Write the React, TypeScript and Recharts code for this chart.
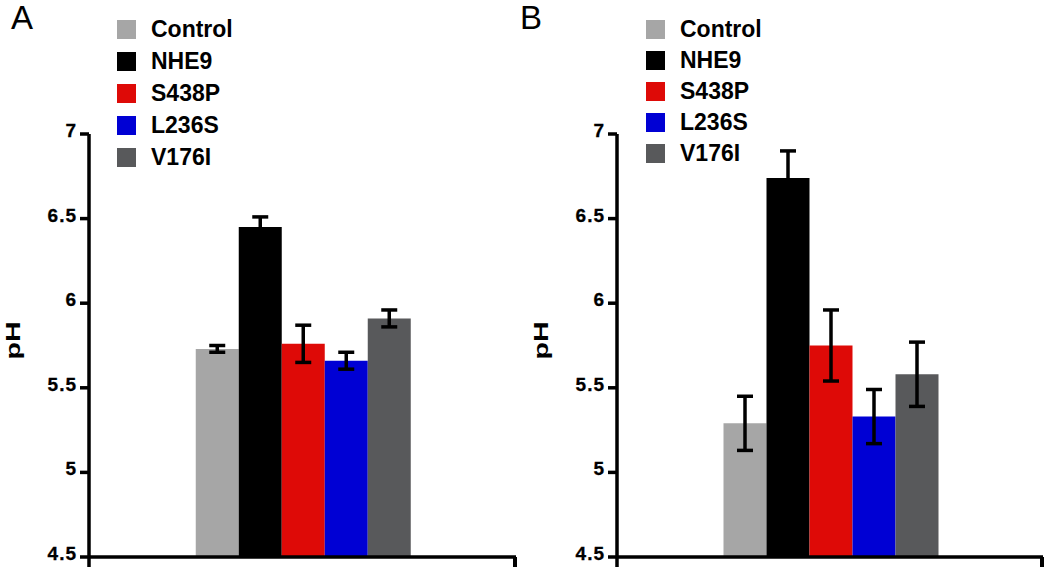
import React from "react";
import * as R from "recharts";
import { BarChart, Bar, XAxis, YAxis, ErrorBar, Legend } from "recharts";

// ── Data
const GROUPS = ["Control", "NHE9", "S438P", "L236S", "V176I"];
const COLORS = ["#a6a6a6", "#000000", "#de0a07", "#0000d4", "#58595b"];
const MEANS_A = [5.73, 6.45, 5.76, 5.66, 5.91];
const ERRORS_A = [0.02, 0.06, 0.11, 0.05, 0.05];
const MEANS_B = [5.29, 6.74, 5.75, 5.33, 5.58];
const ERRORS_B = [0.16, 0.16, 0.21, 0.16, 0.19];
const Y_TICKS = [4.5, 5, 5.5, 6, 6.5, 7];

const FONT = '"Liberation Sans", Arial, Helvetica, sans-serif';
const CHART_H = 571;
const AXIS_W = 3.5;

const useOffsetHook: any = (R as any).useOffset || (() => null);

function buildRow(panel: string, means: number[], errors: number[]) {
  const row: Record<string, string | number> = { panel };
  GROUPS.forEach((g, i) => {
    row[g] = means[i];
    row[g + "_err"] = errors[i];
  });
  return [row];
}

// ── bold y tick, a little above the tick line
const renderYTick = (props: any) => {
  const { x, y, payload } = props;
  return (
    <text
      x={x}
      y={y}
      dy={3}
      textAnchor="end"
      fontFamily={FONT}
      fontWeight={700}
      fontSize={19}
      letterSpacing={1}
      fill="#000"
      stroke="#000"
      strokeWidth={0.3}
    >
      {payload.value}
    </text>
  );
};

// ── rotated, slightly stretched pH label
const PhLabel = ({ viewBox }: any) => {
  const cy = viewBox.y + viewBox.height / 2 - 5;
  return (
    <text
      x={13}
      y={cy}
      transform={`rotate(-90 13 ${cy})`}
      textAnchor="middle"
      dominantBaseline="central"
      fontFamily={FONT}
      fontWeight={700}
      fontSize={20}
      textLength={38}
      lengthAdjust="spacingAndGlyphs"
      fill="#000"
    >
      pH
    </text>
  );
};

// ── small downward ticks at both ends of the x axis
function XEndTicks({ width }: { width: number }) {
  const off = useOffsetHook();
  if (!off) return null;
  const left = off.left;
  const right = width - off.right;
  const base = CHART_H - off.bottom;
  return (
    <g>
      <line x1={left} x2={left} y1={base} y2={base + 10} stroke="#000" strokeWidth={AXIS_W} />
      <line x1={right - 1} x2={right - 1} y1={base} y2={base + 10} stroke="#000" strokeWidth={4} />
    </g>
  );
}

function LegendList({ payload, rowHeight }: any) {
  const items = [...(payload || [])].sort((a: any, b: any) => GROUPS.indexOf(a.value) - GROUPS.indexOf(b.value));
  return (
    <div style={{ fontFamily: FONT, fontWeight: 700, fontSize: 23, whiteSpace: "nowrap", color: "#000" }}>
      {items.map((p: any) => (
        <div key={p.value} style={{ display: "flex", alignItems: "center", height: rowHeight }}>
          <span style={{ display: "inline-block", width: 19, height: 19, background: p.color, marginRight: 15 }} />
          {p.value}
        </div>
      ))}
    </div>
  );
}

function Panel({ means, errors, width, rightMargin, legendLeft, rowHeight }: any) {
  const data = buildRow("x", means, errors);
  return (
    <BarChart
      width={width}
      height={CHART_H}
      data={data}
      margin={{ top: 134, right: rightMargin, bottom: 0, left: 0 }}
      barCategoryGap="25%"
      barGap={0}
    >
      <XAxis
        dataKey="panel"
        height={14}
        tick={false}
        tickLine={false}
        axisLine={{ stroke: "#000", strokeWidth: AXIS_W }}
      />
      <YAxis
        type="number"
        domain={[4.5, 7]}
        ticks={Y_TICKS}
        allowDataOverflow
        width={89}
        tickSize={9}
        tickMargin={3}
        tick={renderYTick}
        axisLine={{ stroke: "#000", strokeWidth: AXIS_W }}
        tickLine={{ stroke: "#000", strokeWidth: AXIS_W }}
        label={<PhLabel />}
      />
      <Legend
        layout="vertical"
        align="center"
        verticalAlign="middle"
        wrapperStyle={{ left: legendLeft, top: 29 - rowHeight / 2, width: "auto" }}
        content={(props: any) => <LegendList {...props} rowHeight={rowHeight} />}
      />
      {GROUPS.map((g, i) => (
        <Bar key={g} dataKey={g} name={g} fill={COLORS[i]} isAnimationActive={false}>
          <ErrorBar dataKey={g + "_err"} width={8} strokeWidth={3.5} stroke="#000" direction="y" />
        </Bar>
      ))}
      <XEndTicks width={width} />
    </BarChart>
  );
}

export default function App() {
  const letter = { position: "absolute" as const, top: 1, fontFamily: FONT, fontSize: 33, lineHeight: "33px", color: "#000" };
  return (
    <div style={{ position: "absolute", left: 0, top: 0, width: 1050, height: 571, background: "#fff", overflow: "hidden" }}>
      <div style={{ position: "absolute", left: 0, top: 0 }}>
        <Panel means={MEANS_A} errors={ERRORS_A} width={525} rightMargin={9} legendLeft={117} rowHeight={32} />
      </div>
      <div style={{ position: "absolute", left: 528, top: 0 }}>
        <Panel means={MEANS_B} errors={ERRORS_B} width={522} rightMargin={7} legendLeft={118} rowHeight={31} />
      </div>
      <div style={{ ...letter, left: 11 }}>A</div>
      <div style={{ ...letter, left: 520 }}>B</div>
    </div>
  );
}
